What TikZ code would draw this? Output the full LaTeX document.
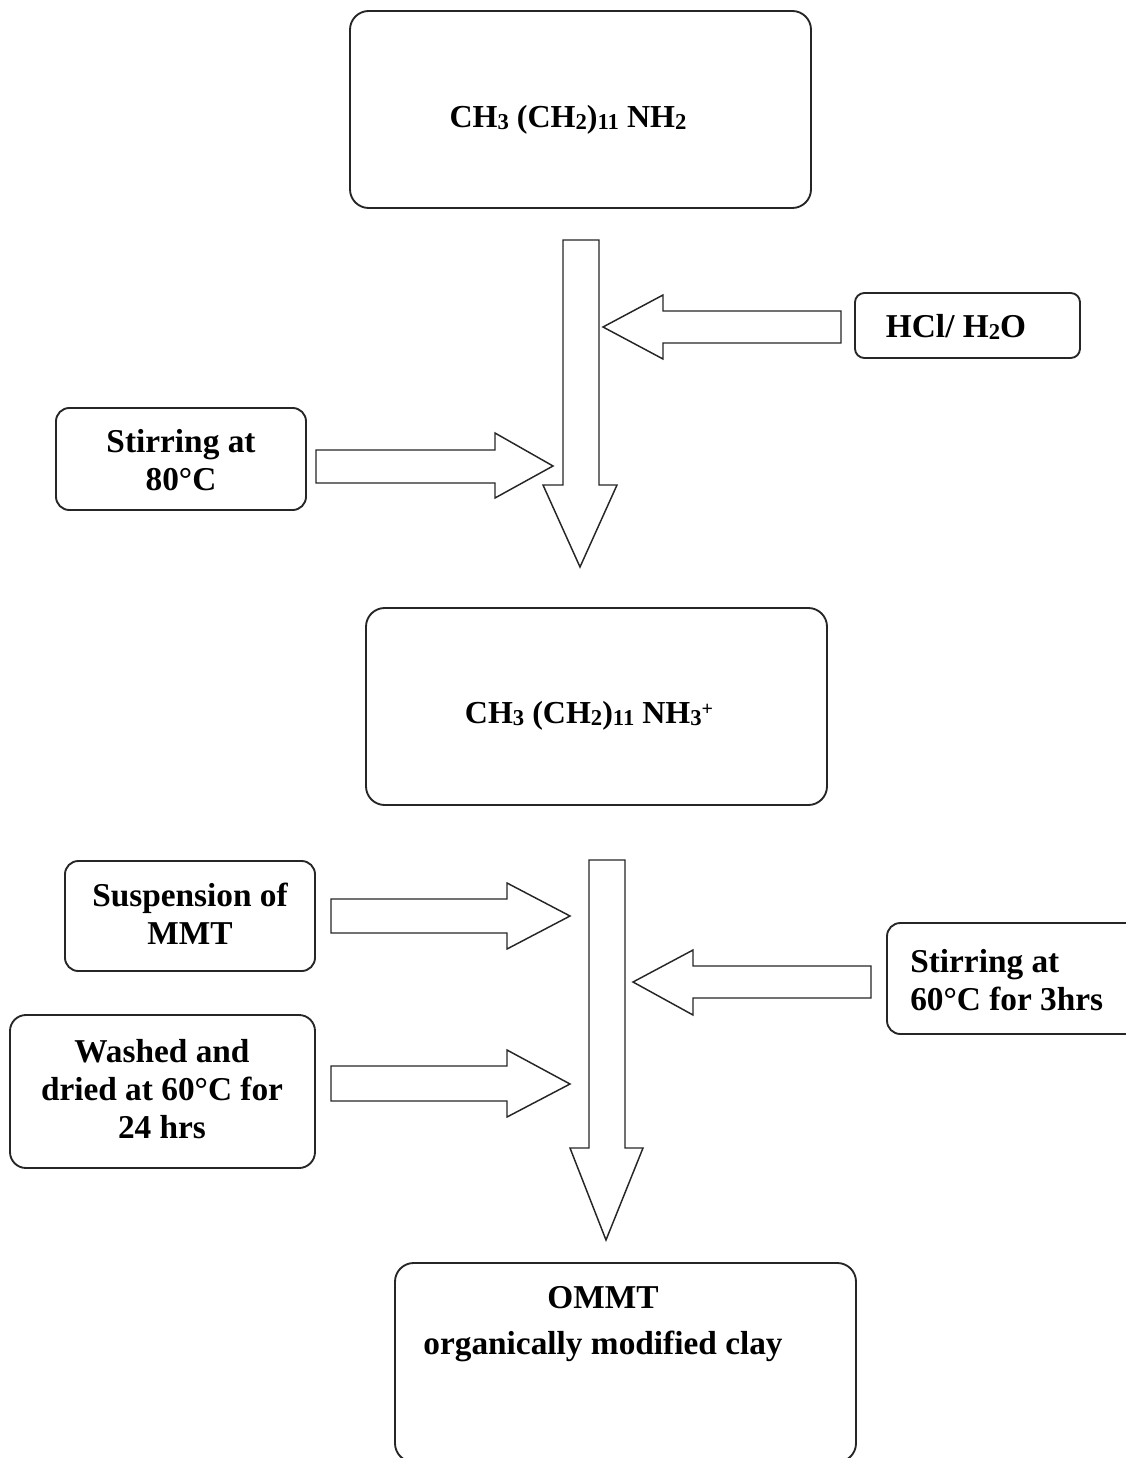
\documentclass[tikz,border=0pt]{standalone}
\usepackage{fontspec}
\setmainfont{Liberation Serif}
\newcommand\lowidx[1]{\raisebox{-0.12ex}{\fontsize{17}{17}\selectfont #1}}
\newcommand\highidx[1]{\raisebox{0.55ex}{\fontsize{15}{15}\selectfont #1}}
\begin{document}
\begin{tikzpicture}[x=0.75pt,y=-0.75pt,
  box/.style={draw=black!85, line width=1.4pt, rounded corners=14pt, inner sep=0pt},
  lbl/.style={font=\bfseries\fontsize{25}{28.5}\selectfont, align=center, inner sep=0pt},
  frm/.style={font=\bfseries\fontsize{24}{28}\selectfont, align=center, inner sep=0pt},
  blk/.style={draw=black!85, line width=1.1pt, fill=white, line join=miter}]
\useasboundingbox (0,0) rectangle (1125,1458);
% boxes
\node[box, minimum width=461*0.75pt, minimum height=197*0.75pt] (b1) at (580.5,109.5) {};
\node[frm] (t1) at (568,120) {CH\lowidx{3} (CH\lowidx{2})\lowidx{11} NH\lowidx{2}};
\node[box, rounded corners=7pt, minimum width=225*0.75pt, minimum height=65*0.75pt] (b2) at (967.5,325.5) {};
\node[lbl] (t2) at (956,327) {HCl/ H\lowidx{2}O};
\node[box, rounded corners=10pt, minimum width=250*0.75pt, minimum height=102*0.75pt] (b3) at (181,459) {};
\node[lbl] (t3) at (181,460) {Stirring at\\80°C};
\node[box, minimum width=461*0.75pt, minimum height=197*0.75pt] (b4) at (596.5,706.5) {};
\node[frm] (t4) at (589,716) {CH\lowidx{3} (CH\lowidx{2})\lowidx{11} NH\lowidx{3}\highidx{+}};
\node[box, rounded corners=10pt, minimum width=250*0.75pt, minimum height=110*0.75pt] (b5) at (190,916) {};
\node[lbl] (t5) at (190,914) {Suspension of\\MMT};
\node[box, rounded corners=10pt, minimum width=260*0.75pt, minimum height=111*0.75pt] (b6) at (1017,978.5) {};
\node[lbl, align=left, anchor=west] (t6) at (910,980) {Stirring at\\60°C for 3hrs};
\node[box, rounded corners=12pt, minimum width=305*0.75pt, minimum height=153*0.75pt] (b7) at (162.5,1091.5) {};
\node[lbl] (t7) at (162,1089) {Washed and\\dried at 60°C for\\24 hrs};
\node[box, minimum width=461*0.75pt, minimum height=199*0.75pt] (b8) at (625.5,1362.5) {};
\node[lbl, font=\bfseries\fontsize{25}{34}\selectfont] (t8) at (603,1324) {OMMT\\organically modified clay};
% block arrows
\draw[blk] (563,240) -- (599,240) -- (599,485) -- (617,485) -- (580,567) -- (543,485) -- (563,485) -- cycle;
\draw[blk] (841,311) -- (663,311) -- (663,295) -- (603,327) -- (663,359) -- (663,343) -- (841,343) -- cycle;
\draw[blk] (316,450) -- (495,450) -- (495,433) -- (553,466) -- (495,498) -- (495,483) -- (316,483) -- cycle;
\draw[blk] (589,860) -- (625,860) -- (625,1148) -- (643,1148) -- (606,1240) -- (570,1148) -- (589,1148) -- cycle;
\draw[blk] (331,899) -- (507,899) -- (507,883) -- (570,916) -- (507,949) -- (507,933) -- (331,933) -- cycle;
\draw[blk] (871,966) -- (693,966) -- (693,950) -- (633,982) -- (693,1015) -- (693,998) -- (871,998) -- cycle;
\draw[blk] (331,1066) -- (507,1066) -- (507,1050) -- (570,1084) -- (507,1117) -- (507,1101) -- (331,1101) -- cycle;
\end{tikzpicture}
\end{document}
